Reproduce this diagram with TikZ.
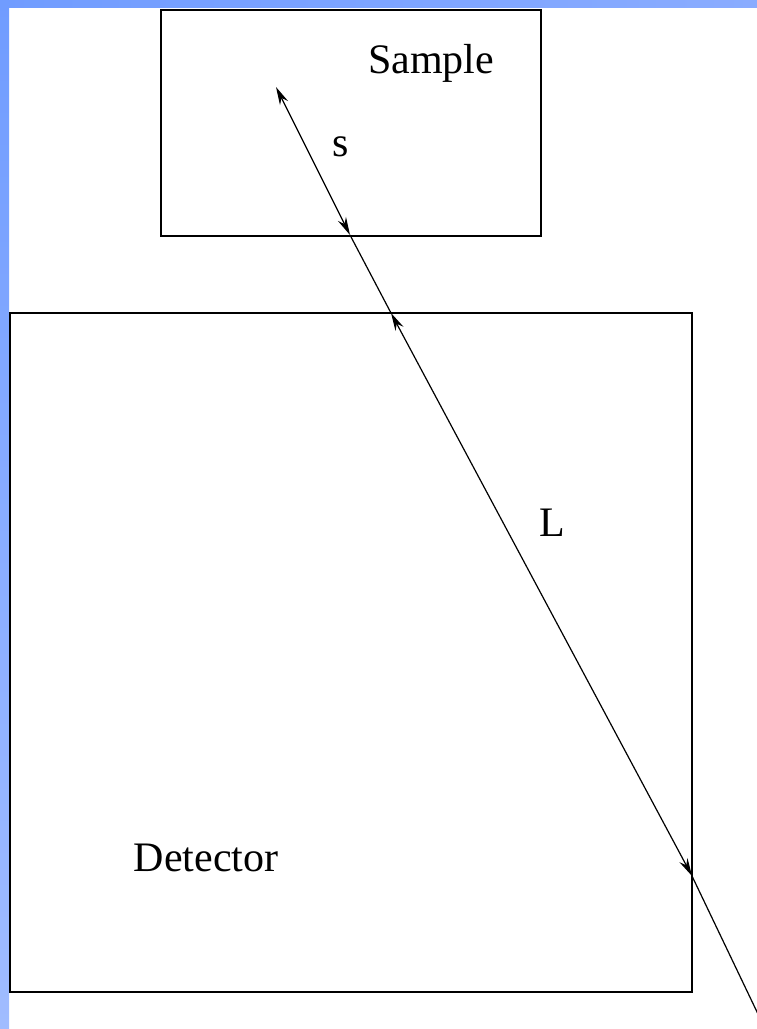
\documentclass[tikz,border=0pt]{standalone}
\usepackage{fontspec}
\setmainfont{Liberation Serif}
\usetikzlibrary{arrows.meta}
\definecolor{bandA}{RGB}{112,156,255}
\definecolor{bandB}{RGB}{138,172,255}
\definecolor{bandC}{RGB}{160,188,255}
\begin{document}
\begin{tikzpicture}[x=1pt,y=-1pt,
  boxstyle/.style={draw=black,line width=1.7pt,inner sep=0pt},
  ray/.style={line width=1.2pt},
  bitip/.style={{Stealth[length=18pt,width=9pt]}-{Stealth[length=18pt,width=9pt]}},
  lbl/.style={font=\fontsize{42}{46}\selectfont,inner sep=0pt}]
\useasboundingbox (0,0) rectangle (757,1029);
\fill[white] (0,0) rectangle (757,1029);
% blue bands
\shade[left color=bandA,right color=bandB] (0,0) rectangle (757,7);
\shade[top color=bandA,bottom color=bandC] (0,0) rectangle (9,1029);
% boxes
\node[boxstyle,minimum width=380pt,minimum height=226pt] (sample) at (351,123) {};
\node[boxstyle,minimum width=682pt,minimum height=679pt] (detector) at (351,652.5) {};
% labels
\node[lbl] (samplelbl) at (431,63) {Sample};
\node[lbl] (slbl) at (340.5,147) {s};
\node[lbl] (llbl) at (552,523) {L};
\node[lbl] (detlbl) at (206,858) {Detector};
% ray points
\coordinate (p0) at (276,87);
\coordinate (p1) at (350,235);
\coordinate (p2) at (391,313);
\coordinate (p3) at (692,876);
\coordinate (p4) at (758,1014);
\draw[ray,bitip] (p0) -- (p1);
\draw[ray] (p1) -- (p2);
\draw[ray,bitip] (p2) -- (p3);
\draw[ray] (p3) -- (p4);
\end{tikzpicture}
\end{document}
